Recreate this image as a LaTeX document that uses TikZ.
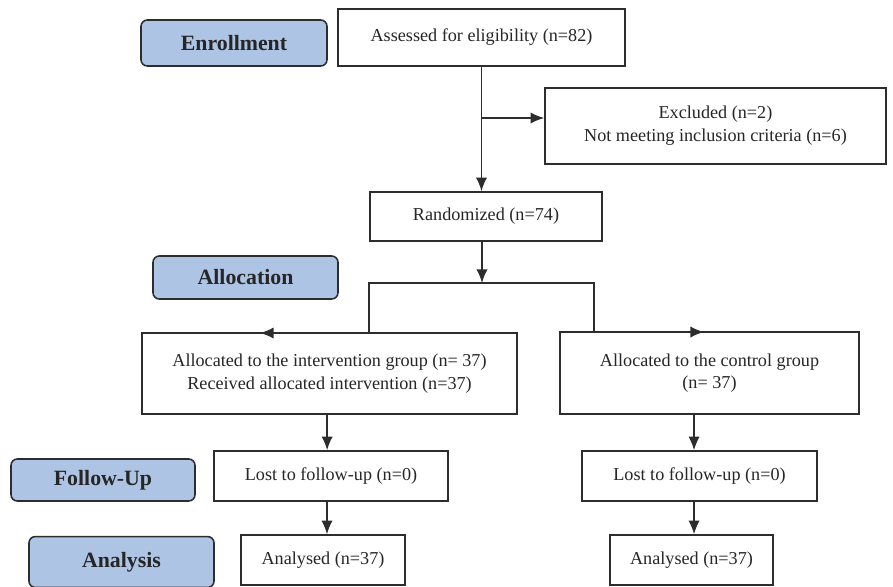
\documentclass[tikz,border=0pt]{standalone}
\usepackage{fontspec}
\setmainfont{Liberation Serif}
\usetikzlibrary{arrows.meta}
\definecolor{stageblue}{RGB}{174,196,228}
\definecolor{edgegray}{RGB}{45,45,45}

\begin{document}
\begin{tikzpicture}[>={Latex[length=7.5pt,width=6.2pt]}, x=0.55pt, y=-0.55pt,
  every node/.style={font=\fontsize{10}{12.5}\selectfont, text=black!85},
  box/.style={draw=edgegray, line width=0.85pt, fill=white, align=center, inner sep=0pt},
  stage/.style={draw=edgegray, line width=0.85pt, fill=stageblue, rounded corners=3.5pt,
    inner sep=0pt, font=\fontsize{12}{14}\selectfont\bfseries},
  link/.style={draw=edgegray, line width=0.85pt}]
\useasboundingbox (0,0) rectangle (893,586);

% the stage labels on the left
\node[stage, minimum width=102.3pt, minimum height=25.3pt] (enroll) at (234,43) {Enrollment};
\node[stage, minimum width=101.75pt, minimum height=23.65pt] (alloc) at (245.5,277.5) {Allocation};
\node[stage, minimum width=101.2pt, minimum height=23.1pt] (follow) at (103,480) {Follow-Up};
\node[stage, minimum width=101.75pt, minimum height=28pt] (analysis) at (121.5,562) {Analysis};

% the boxes of the flow
\node[box, minimum width=157.85pt, minimum height=31.35pt] (assess) at (481.5,37.5) {Assessed for eligibility (n=82)};
\node[box, minimum width=187.55pt, minimum height=41.8pt] (excl) at (715.5,126) {Excluded (n=2)\\Not meeting inclusion criteria (n=6)};
\node[box, minimum width=127.6pt, minimum height=26.95pt] (rand) at (486,216.5) {Randomized (n=74)};
\node[box, minimum width=206.25pt, minimum height=44.55pt] (interv) at (329.5,373.5) {Allocated to the intervention group (n= 37)\\Received allocated intervention (n=37)};
\node[box, minimum width=164.45pt, minimum height=45.1pt] (control) at (709.5,373) {Allocated to the control group\\(n= 37)};
\node[box, minimum width=128.7pt, minimum height=27.5pt] (lostA) at (331,476) {Lost to follow-up (n=0)};
\node[box, minimum width=129.25pt, minimum height=27.5pt] (lostB) at (699.5,476) {Lost to follow-up (n=0)};
\node[box, minimum width=90.2pt, minimum height=27.5pt] (anA) at (323,560) {Analysed (n=37)};
\node[box, minimum width=89.65pt, minimum height=27.5pt] (anB) at (691.5,560) {Analysed (n=37)};

% the arrows
\coordinate (excbr) at (482,118);
\coordinate (split) at (482,283);
\coordinate (tipA) at (260,333);
\coordinate (tipB) at (704,332);
\draw[link,->] (assess.south) -- (assess.south |- rand.north);
\draw[link,->] (excbr) -- (excbr -| excl.west);
\draw[link,->] (rand.south -| split) -- (split);
\draw[link,->] (split) -- (369,283) -- (369,333) -- (tipA);
\draw[link,->] (split) -- (594,283) -- (594,332) -- (tipB);
\draw[link,->] ([xshift=-1.3pt]interv.south) -- ([xshift=-1.3pt]interv.south |- lostA.north);
\draw[link,->] ([xshift=-2.2pt]lostA.south) -- ([xshift=-2.2pt]lostA.south |- anA.north);
\draw[link,->] ([xshift=-3pt]lostB.north |- control.south) -- ([xshift=-3pt]lostB.north);
\draw[link,->] ([xshift=-3pt]lostB.south) -- ([xshift=-3pt]lostB.south |- anB.north);
\end{tikzpicture}
\end{document}
